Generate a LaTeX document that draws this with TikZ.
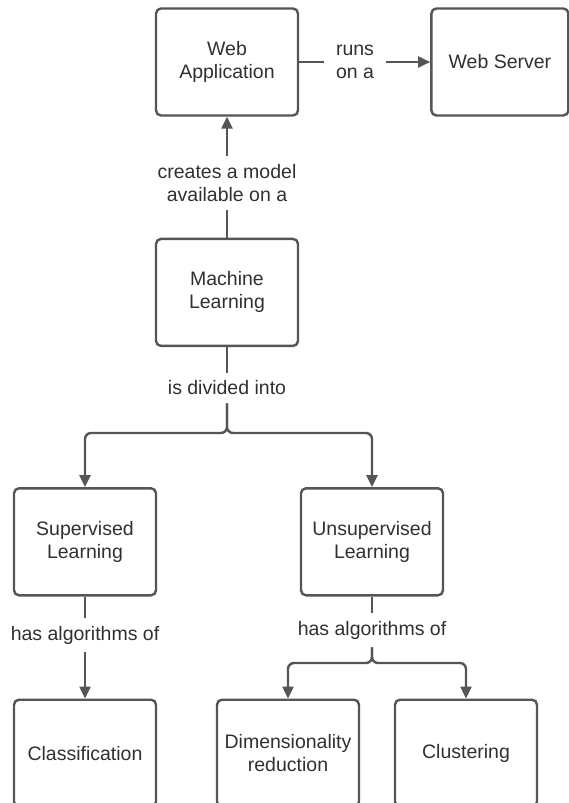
\documentclass[tikz,border=0pt]{standalone}
\usepackage{fontspec}
\setmainfont{Liberation Sans}
\usetikzlibrary{positioning,arrows.meta}
\definecolor{linegray}{HTML}{555555}
\definecolor{textgray}{HTML}{303030}

\begin{document}
\begin{tikzpicture}[
    x=1pt, y=-1pt,
    box/.style = {draw=linegray, line width=2.4pt, minimum width=142pt, minimum height=107pt, rounded corners=5pt, align=center, text=textgray, font=\fontsize{19.5}{23}\selectfont},
    lbl/.style = {align=center, inner xsep=12pt, inner ysep=8pt, text=textgray, font=\fontsize{19.5}{23}\selectfont},
    link/.style = {draw=linegray, line width=2.4pt, rounded corners=6pt},
    > = {Triangle[width=11pt, length=12pt]}
]
\useasboundingbox (0,0) rectangle (569,803);

\node (webapp) [box] at (227,62) {Web\\Application};
\node (server) [box, minimum width=137pt, right=131pt of webapp] {Web Server};
\node (ml) [box, below=121pt of webapp] {Machine\\Learning};

\node (sup) [box, below=140pt of ml, xshift=-142pt] {Supervised\\Learning};
\node (unsup) [box, right=142.6pt of sup] {Unsupervised\\Learning};

\node (class) [box, below=102pt of sup] {Classification};
\node (dim) [box, below=102pt of unsup, xshift=-84pt] {Dimensionality\\reduction};
\node (clus) [box, right=33.6pt of dim] {Clustering};

\node (runs) [lbl] at (355,62) {runs\\on a};
\node (create) [lbl] at (227,183) {creates a model\\available on a};
\node (divided) [lbl] at (227,388) {is divided into};
\node (has1) [lbl] at (85,635) {has algorithms of};
\node (has2) [lbl] at (372,630) {has algorithms of};

\coordinate (split1) at (227,433);
\coordinate (split2) at (372,663);

\draw[link] (webapp) -- (runs);
\draw[link,->] (runs) -- (server);
\draw[link] (ml) -- (create);
\draw[link,->] (create) -- (webapp);
\draw[link] (ml) -- (divided);
\draw[link,->] (divided.south) -- (split1) -| (sup.north);
\draw[link,->] (divided.south) -- (split1) -| (unsup.north);
\draw[link] (sup) -- (has1);
\draw[link,->] (has1) -- (class);
\draw[link] (unsup) -- (has2);
\draw[link,->] (has2.south) -- (split2) -| (dim.north);
\draw[link,->] (has2.south) -- (split2) -| (clus.north);
\end{tikzpicture}
\end{document}
